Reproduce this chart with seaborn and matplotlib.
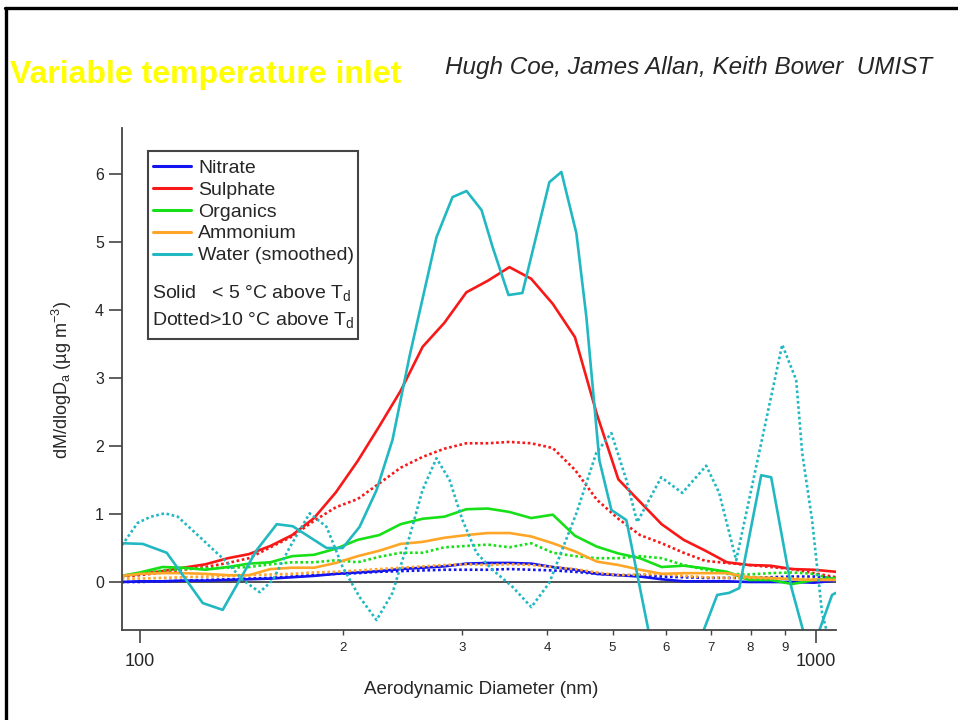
import pandas as pd
import numpy as np
import matplotlib
matplotlib.use('Agg')
import matplotlib.pyplot as plt
import seaborn as sns
from matplotlib.lines import Line2D
from matplotlib.patches import Rectangle
from matplotlib.ticker import FixedLocator, FixedFormatter

# size bins (nm) shared by the four species
diam = [94, 100, 108, 116, 125, 135, 145, 156, 168, 181, 195, 210, 226, 243, 262, 282,
        304, 327, 352, 379, 408, 440, 474, 510, 549, 591, 637, 686, 738, 795, 856, 922, 993, 1070]

nitrate_solid = [0.00, 0.01, 0.01, 0.02, 0.02, 0.03, 0.04, 0.05, 0.07, 0.09, 0.12, 0.14, 0.16, 0.19, 0.21, 0.23,
                 0.27, 0.28, 0.28, 0.27, 0.22, 0.18, 0.12, 0.10, 0.08, 0.04, 0.01, 0.01, 0.01, 0.00, 0.00, 0.00, -0.01, 0.02]
nitrate_dotted = [0.00, 0.00, 0.01, 0.02, 0.03, 0.04, 0.05, 0.06, 0.08, 0.10, 0.12, 0.13, 0.15, 0.16, 0.17, 0.18,
                  0.18, 0.18, 0.19, 0.18, 0.17, 0.15, 0.12, 0.10, 0.10, 0.08, 0.07, 0.06, 0.06, 0.06, 0.07, 0.08, 0.08, 0.06]
sulphate_solid = [0.09, 0.12, 0.16, 0.21, 0.26, 0.35, 0.41, 0.53, 0.69, 0.94, 1.32, 1.78, 2.29, 2.81, 3.46, 3.81,
                  4.26, 4.43, 4.63, 4.46, 4.09, 3.60, 2.47, 1.51, 1.18, 0.85, 0.62, 0.46, 0.29, 0.25, 0.24, 0.19, 0.18, 0.15]
sulphate_dotted = [0.08, 0.10, 0.14, 0.18, 0.22, 0.28, 0.35, 0.51, 0.67, 0.90, 1.10, 1.22, 1.45, 1.68, 1.84, 1.96,
                   2.04, 2.04, 2.06, 2.04, 1.97, 1.65, 1.21, 0.93, 0.69, 0.57, 0.43, 0.31, 0.28, 0.25, 0.22, 0.19, 0.13, 0.07]
organics_solid = [0.09, 0.14, 0.22, 0.21, 0.18, 0.22, 0.27, 0.29, 0.38, 0.40, 0.49, 0.62, 0.69, 0.85, 0.93, 0.96,
                  1.07, 1.08, 1.03, 0.94, 0.99, 0.68, 0.52, 0.42, 0.35, 0.22, 0.24, 0.20, 0.15, 0.03, 0.03, -0.03, 0.03, 0.06]
organics_dotted = [0.09, 0.12, 0.17, 0.19, 0.20, 0.21, 0.22, 0.26, 0.29, 0.29, 0.32, 0.29, 0.37, 0.43, 0.43, 0.51,
                   0.53, 0.55, 0.51, 0.57, 0.43, 0.38, 0.35, 0.35, 0.38, 0.35, 0.25, 0.18, 0.12, 0.11, 0.13, 0.14, 0.12, 0.03]
ammonium_solid = [0.09, 0.12, 0.13, 0.13, 0.12, 0.10, 0.10, 0.19, 0.21, 0.21, 0.28, 0.38, 0.46, 0.56, 0.59, 0.65,
                  0.69, 0.72, 0.72, 0.67, 0.57, 0.45, 0.30, 0.25, 0.18, 0.12, 0.13, 0.13, 0.13, 0.07, 0.06, 0.04, 0.03, 0.03]
ammonium_dotted = [0.05, 0.05, 0.06, 0.07, 0.08, 0.09, 0.10, 0.11, 0.12, 0.14, 0.15, 0.17, 0.19, 0.21, 0.23, 0.25,
                   0.26, 0.25, 0.26, 0.25, 0.22, 0.19, 0.14, 0.10, 0.11, 0.12, 0.09, 0.07, 0.06, 0.06, 0.05, 0.05, 0.04, 0.03]

# water (smoothed) has its own points
water_solid_d = [94.1, 101, 109.6, 123.9, 132.6, 148.9, 159.4, 168.3, 188.9, 199.5, 211.3, 223.9, 236.4, 250.4,
                 274.6, 290.0, 304.2, 320.1, 332.3, 350.9, 367.9, 403.3, 420.1, 442.1, 457.4, 478.1, 498.0, 524.2,
                 602.6, 714.2, 743.7, 769.9, 829.6, 858.2, 918.7, 979.8, 1056, 1070]
water_solid = [0.57, 0.56, 0.43, -0.31, -0.41, 0.47, 0.85, 0.82, 0.50, 0.50, 0.81, 1.35, 2.09, 3.31,
               5.07, 5.66, 5.75, 5.47, 4.93, 4.22, 4.25, 5.88, 6.03, 5.13, 3.90, 1.79, 1.06, 0.91,
               -2.1, -0.19, -0.16, -0.09, 1.57, 1.54, -0.07, -1.09, -0.19, -0.16]
water_dotted_d = [94.1, 99.3, 103.8, 108.9, 113.8, 122.7, 134.5, 142.0, 150.4, 157.3, 166.6, 178.3, 188.9, 199.5,
                  211.3, 223.9, 236.4, 250.4, 261.8, 274.6, 287.1, 300.0, 314.6, 332.3, 355.6, 379.3, 403.3, 442.1,
                  473.2, 498.0, 524.2, 543.9, 566.6, 590.2, 634.1, 687.9, 719.0, 761.8, 891.1, 934.6, 953.8, 986.5,
                  1020.7, 1045]
water_dotted = [0.54, 0.87, 0.96, 1.01, 0.96, 0.66, 0.29, 0.03, -0.15, 0.03, 0.51, 1.01, 0.81, 0.22,
                -0.22, -0.56, -0.16, 0.66, 1.35, 1.82, 1.50, 0.91, 0.43, 0.18, -0.07, -0.37, -0.01, 1.01,
                1.90, 2.19, 1.50, 0.88, 1.21, 1.54, 1.31, 1.71, 1.31, 0.32, 3.49, 2.97, 1.90, 0.91,
                -0.46, -0.85]

species = ['Nitrate', 'Sulphate', 'Organics', 'Ammonium', 'Water (smoothed)']
colors = ['#1414F0', '#F81818', '#18E018', '#FFA628', '#22B8C2']

frames = []
for name, solid, dotted in [('Nitrate', nitrate_solid, nitrate_dotted),
                            ('Sulphate', sulphate_solid, sulphate_dotted),
                            ('Organics', organics_solid, organics_dotted),
                            ('Ammonium', ammonium_solid, ammonium_dotted)]:
    frames.append(pd.DataFrame({'diameter': diam, 'value': solid, 'species': name, 'inlet': 'solid'}))
    frames.append(pd.DataFrame({'diameter': diam, 'value': dotted, 'species': name, 'inlet': 'dotted'}))
frames.append(pd.DataFrame({'diameter': water_solid_d, 'value': water_solid,
                            'species': 'Water (smoothed)', 'inlet': 'solid'}))
frames.append(pd.DataFrame({'diameter': water_dotted_d, 'value': water_dotted,
                            'species': 'Water (smoothed)', 'inlet': 'dotted'}))
df = pd.concat(frames, ignore_index=True)

sns.set_style('white')
plt.rcParams['font.family'] = ['Liberation Sans', 'DejaVu Sans']
plt.rcParams['mathtext.fontset'] = 'custom'
plt.rcParams['mathtext.rm'] = 'Liberation Sans'
plt.rcParams['mathtext.it'] = 'Liberation Sans:italic'

fig = plt.figure(figsize=(9.58, 7.2), dpi=100)
ax = fig.add_axes([0.1273, 0.125, 0.7453, 0.6972])
ax.set_xscale('log')

ax.axhline(0, color='#505050', lw=1.4, zorder=1)
sns.lineplot(data=df, x='diameter', y='value', hue='species', style='inlet',
             hue_order=species, palette=colors, style_order=['solid', 'dotted'],
             dashes={'solid': '', 'dotted': (1, 1)}, estimator=None, sort=True,
             linewidth=1.9, legend=False, ax=ax)

ax.set_xlim(94.1, 1070)
ax.set_ylim(-0.706, 6.676)

ax.xaxis.set_major_locator(FixedLocator([100, 1000]))
ax.xaxis.set_major_formatter(FixedFormatter(['100', '1000']))
ax.xaxis.set_minor_locator(FixedLocator([200, 300, 400, 500, 600, 700, 800, 900]))
ax.xaxis.set_minor_formatter(FixedFormatter(['2', '3', '4', '5', '6', '7', '8', '9']))
ax.set_yticks([0, 1, 2, 3, 4, 5, 6])

ax.tick_params(axis='x', which='major', direction='out', length=9.5, width=1.2, pad=7,
               labelsize=13, color='#444444', bottom=True)
ax.tick_params(axis='x', which='minor', direction='out', length=3.5, width=1.0, pad=5,
               labelsize=9.5, color='#444444', bottom=True)
ax.tick_params(axis='y', which='major', direction='out', length=9.5, width=1.2, pad=3.5,
               labelsize=11.5, color='#444444', left=True)

for side in ['top', 'right']:
    ax.spines[side].set_visible(False)
for side in ['left', 'bottom']:
    ax.spines[side].set_color('#444444')
    ax.spines[side].set_linewidth(1.3)

ax.set_xlabel('Aerodynamic Diameter (nm)', fontsize=13.5)
ax.xaxis.set_label_coords(0.503, -0.102)
ax.set_ylabel(r'dM/dlogD$_\mathrm{a}$ (µg m$^\mathrm{-3}$)', fontsize=13)
ax.yaxis.set_label_coords(-0.067, 0.498)

# legend box
ax.add_patch(Rectangle((0.0364, 0.5797), 0.2941, 0.3745, transform=ax.transAxes,
                       facecolor='white', edgecolor='#444444', lw=1.5, zorder=5))
handles = [Line2D([], [], color=c, lw=2.2) for c in colors]
leg = ax.legend(handles, species, loc='upper left', bbox_to_anchor=(0.043, 0.938),
                frameon=False, fontsize=14, handlelength=1.95, handletextpad=0.4,
                labelspacing=0.22, borderpad=0, borderaxespad=0)
leg.set_zorder(6)
ax.text(0.042, 0.671, r'Solid   < 5 °C above T$_\mathrm{d}$', transform=ax.transAxes,
        fontsize=14, va='center', ha='left', zorder=7)
ax.text(0.042, 0.6175, r'Dotted>10 °C above T$_\mathrm{d}$', transform=ax.transAxes,
        fontsize=14, va='center', ha='left', zorder=7)

# slide header
fig.text(10 / 958, 1 - 83 / 720, 'Variable temperature inlet', color='#FFFF00',
         fontsize=23, fontweight='bold', ha='left', va='baseline')
fig.text(445 / 958, 1 - 74 / 720, 'Hugh Coe, James Allan, Keith Bower  UMIST',
         fontsize=17.5, style='italic', ha='left', va='baseline')

# slide border
fig.add_artist(Line2D([5 / 958, 1], [1 - 8 / 720, 1 - 8 / 720], color='black', lw=2.4,
                      transform=fig.transFigure))
fig.add_artist(Line2D([6 / 958, 6 / 958], [0, 1 - 8 / 720], color='black', lw=2.4,
                      transform=fig.transFigure))

fig.savefig('out.png', dpi=100)
